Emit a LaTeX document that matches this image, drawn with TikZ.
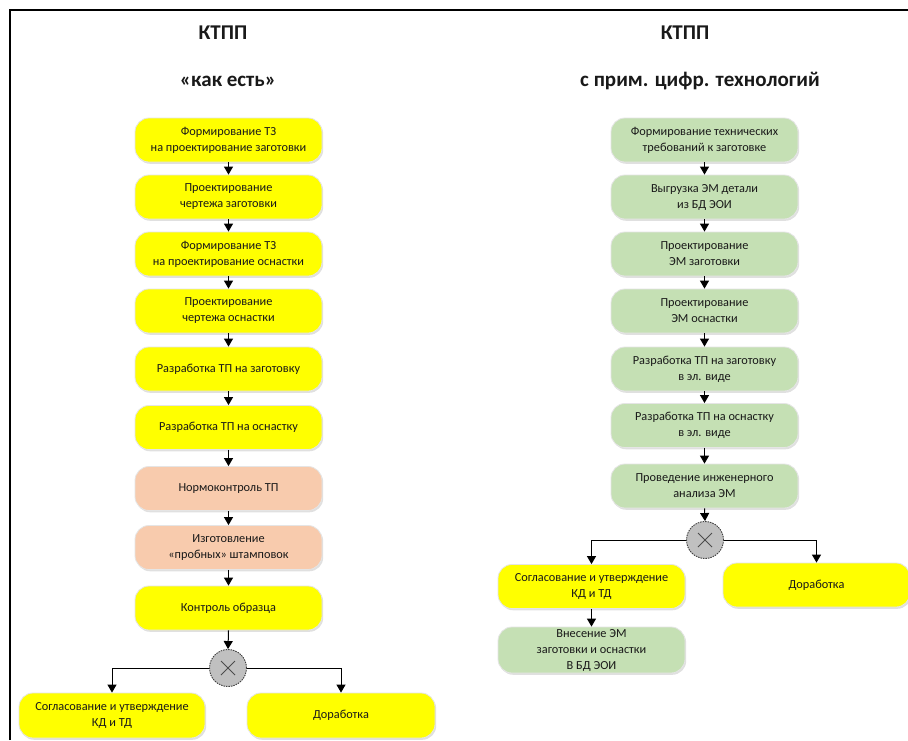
\documentclass[tikz,border=0pt]{standalone}
\usepackage{fontspec}
\setmainfont{Carlito}
\usetikzlibrary{arrows.meta,shadows}
\definecolor{yel}{HTML}{FFFF00}
\definecolor{peach}{HTML}{F8CBAD}
\definecolor{grn}{HTML}{C5E0B4}
\definecolor{gwfill}{HTML}{C0C0C0}
\tikzset{
  boxbase/.style={rectangle, rounded corners=14pt, minimum width=187pt, minimum height=44pt,
    align=center, inner sep=2pt, font=\fontsize{12.3}{16}\selectfont, text=black!90,
    draw=black!10, line width=0.8pt,
    drop shadow={shadow xshift=1.2pt, shadow yshift=-1.8pt, fill=black, opacity=0.12}},
  ybox/.style={boxbase, fill=yel},
  pbox/.style={boxbase, fill=peach},
  gbox/.style={boxbase, fill=grn},
  gateway/.style={circle, minimum size=37pt, inner sep=0pt, fill=gwfill, draw=black!75,
    line width=0.9pt, dash pattern=on 1.5pt off 1pt,
    path picture={\draw[black!70, line width=0.9pt, solid]
      ([shift={(-7pt,-7pt)}]path picture bounding box.center) -- ([shift={(7pt,7pt)}]path picture bounding box.center)
      ([shift={(-7pt,7pt)}]path picture bounding box.center) -- ([shift={(7pt,-7pt)}]path picture bounding box.center);}},
  flow/.style={line width=1pt, -{Triangle[length=8pt,width=9pt]}},
  ttl/.style={font=\fontsize{21}{25}\selectfont\bfseries, text=black!90}
}
\begin{document}
\begin{tikzpicture}[x=1pt,y=-1pt]
\useasboundingbox (0,0) rectangle (908,740);
\fill[white] (0,0) rectangle (908,740);
\draw[line width=2pt] (10,740) -- (10,10) -- (908,10);

% titles
\node[ttl] (tl1) at (223,33) {КТПП};
\node[ttl] (tl2) at (228,81) {«как есть»};
\node[ttl] (tr1) at (685,33) {КТПП};
\node[ttl] (tr2) at (700,81) {с прим. цифр. технологий};

% left column
\node[ybox] (a1) at (228.5,140) {Формирование ТЗ\\на проектирование заготовки};
\node[ybox] (a2) at (228.5,197) {Проектирование\\чертежа заготовки};
\node[ybox] (a3) at (228.5,254) {Формирование ТЗ\\на проектирование оснастки};
\node[ybox] (a4) at (228.5,311) {Проектирование\\чертежа оснастки};
\node[ybox] (a5) at (228.5,369) {Разработка ТП на заготовку};
\node[ybox] (a6) at (228.5,427.5) {Разработка ТП на оснастку};
\node[pbox] (a7) at (228.5,488.5) {Нормоконтроль ТП};
\node[pbox] (a8) at (228.5,547.5) {Изготовление\\«пробных» штамповок};
\node[ybox] (a9) at (228.5,608) {Контроль образца};
\node[gateway] (ga) at (228,668) {};
\node[ybox, minimum width=186pt, minimum height=45pt] (al) at (112,715.5) {Согласование и утверждение\\КД и ТД};
\node[ybox, minimum width=188pt, minimum height=45pt] (ar) at (341,715.5) {Доработка};

\foreach \p/\q in {a1/a2,a2/a3,a3/a4,a4/a5,a5/a6,a6/a7,a7/a8,a8/a9,a9/ga}
  \draw[flow] (\p.south) -- (\q.north);
\draw[flow] (ga.west) -| (al.north);
\draw[flow] (ga.east) -| (ar.north);

% right column
\node[gbox] (b1) at (704.5,140) {Формирование технических\\требований к заготовке};
\node[gbox] (b2) at (704.5,197) {Выгрузка ЭМ детали\\из БД ЭОИ};
\node[gbox] (b3) at (704.5,254) {Проектирование\\ЭМ заготовки};
\node[gbox] (b4) at (704.5,311) {Проектирование\\ЭМ оснастки};
\node[gbox] (b5) at (704.5,369) {Разработка ТП на заготовку\\в эл. виде};
\node[gbox] (b6) at (704.5,425.5) {Разработка ТП на оснастку\\в эл. виде};
\node[gbox] (b7) at (704.5,486) {Проведение инженерного\\анализа ЭМ};
\node[gateway] (gb) at (705,540) {};
\node[ybox] (bl) at (591.5,586.5) {Согласование и утверждение\\КД и ТД};
\node[ybox] (br) at (816.5,585) {Доработка};
\node[gbox, minimum height=46pt] (bz) at (591.5,650) {Внесение ЭМ\\заготовки и оснастки\\В БД ЭОИ};

\foreach \p/\q in {b1/b2,b2/b3,b3/b4,b4/b5,b5/b6,b6/b7,b7/gb,bl/bz}
  \draw[flow] (\p.south) -- (\q.north);
\draw[flow] (gb.west) -| (bl.north);
\draw[flow] (gb.east) -| (br.north);
\end{tikzpicture}
\end{document}
